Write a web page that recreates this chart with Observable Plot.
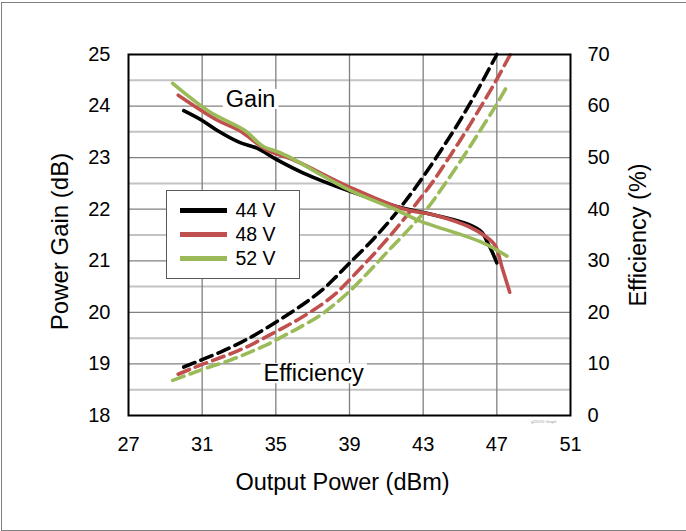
<!DOCTYPE html>
<html>
<head>
<meta charset="utf-8">
<script src="https://cdn.jsdelivr.net/npm/d3@7"></script>
<script src="https://cdn.jsdelivr.net/npm/@observablehq/plot@0.6"></script>
<style>
  html, body { margin: 0; padding: 0; background: #fff; }
  #wrap { position: relative; width: 686px; height: 531px; overflow: hidden; font-family: "Liberation Sans", Arial, sans-serif; }
  #border { position: absolute; left: 1px; top: 2px; width: 720px; height: 529px; border: 1.5px solid #7f7f7f; box-sizing: border-box; pointer-events: none; }
  #legend { position: absolute; left: 165.5px; top: 189.5px; width: 134px; height: 89px; border: 1px solid #595959; background: #fff; box-sizing: border-box; }
  .lrow { position: absolute; left: 13px; height: 24px; display: flex; align-items: center; font-size: 19.5px; color: #000; }
  .lsw { width: 47px; height: 5.5px; margin-right: 9px; }
</style>
</head>
<body>
<div id="wrap"><div id="border"></div></div>
<script>
// ---- Data ----
const series = ["44 V", "48 V", "52 V"];
const colors = ["#000000", "#c0504d", "#9bbb59"];

// Power gain (dB) vs output power (dBm)
const gain44x = [30.0, 31.0, 31.8, 33.0, 34.0, 35.0, 36.5, 39.0, 41.6, 43.7, 45.5, 46.2, 46.5, 46.75, 47.0];
const gain44y = [23.91, 23.72, 23.53, 23.30, 23.18, 22.97, 22.70, 22.35, 22.05, 21.88, 21.70, 21.55, 21.35, 21.17, 20.96];
const gain48x = [29.7, 31.8, 33.0, 34.5, 36.0, 39.0, 41.9, 43.7, 45.5, 46.4, 46.9, 47.3, 47.7];
const gain48y = [24.21, 23.73, 23.53, 23.15, 22.95, 22.43, 22.01, 21.88, 21.66, 21.47, 21.30, 20.85, 20.39];
const gain52x = [29.4, 31.4, 33.3, 34.3, 35.2, 35.9, 39.0, 41.6, 42.7, 46.1, 47.55];
const gain52y = [24.44, 23.89, 23.53, 23.22, 23.10, 22.98, 22.37, 21.98, 21.79, 21.37, 21.09];

// Efficiency (%) vs output power (dBm)
const eff44x = [30.0, 30.9, 32.0, 33.06, 33.8, 34.87, 35.96, 36.7, 37.6, 38.3, 39.04, 40.0, 41.0, 42.0, 43.0, 44.0, 45.0, 46.0, 47.0];
const eff44y = [9.4, 10.7, 12.3, 14.1, 15.5, 17.8, 20.3, 22.1, 24.6, 27.0, 29.7, 33.1, 37.0, 41.4, 46.3, 51.6, 57.2, 63.4, 70.0];
const eff48x = [29.7, 30.5, 31.6, 32.7, 33.6, 34.5, 35.4, 36.3, 37.4, 38.3, 39.0, 39.85, 40.5, 41.5, 42.5, 43.5, 44.4, 45.3, 46.15, 47.0, 47.73];
const eff48y = [8.0, 9.2, 10.7, 12.2, 13.6, 15.3, 17.0, 18.8, 21.3, 23.8, 26.3, 29.5, 32.0, 36.1, 40.5, 45.2, 50.0, 55.0, 60.0, 65.2, 70.0];
const eff52x = [29.4, 30.3, 31.4, 32.5, 33.6, 34.5, 35.4, 36.3, 37.4, 38.1, 39.04, 39.76, 40.5, 41.2, 41.9, 42.5, 43.3, 44.2, 45.15, 46.05, 46.93, 47.55];
const eff52y = [6.8, 8.0, 9.4, 10.7, 12.3, 13.7, 15.4, 17.1, 19.4, 21.3, 24.2, 26.8, 29.6, 32.3, 34.9, 37.2, 40.5, 45.0, 50.0, 55.0, 60.0, 63.8];

// Axes / ticks
const xTicks = [27, 31, 35, 39, 43, 47, 51];
const xGrid = [31, 35, 39, 43, 47];
const gainTicks = [18, 19, 20, 21, 22, 23, 24, 25];
const effTicks = [0, 10, 20, 30, 40, 50, 60, 70];
const gainHalf = [18.5, 19.5, 20.5, 21.5, 22.5, 23.5, 24.5];
const gainInner = [19, 20, 21, 22, 23, 24];

// Annotations (data coordinates)
const annLabels = ["Gain", "Efficiency"];
const annX = [33.63, 37.05];
const annY = [24.13, 18.81];

// ---- Build tables ----
const effToGain = e => 18 + e / 10; // right axis 0..70 % maps onto left 18..25 dB
const gainRows = [];
[[gain44x, gain44y], [gain48x, gain48y], [gain52x, gain52y]].forEach(([xs, ys], i) =>
  xs.forEach((x, j) => gainRows.push({series: series[i], x, y: ys[j]})));
const effRows = [];
[[eff44x, eff44y], [eff48x, eff48y], [eff52x, eff52y]].forEach(([xs, ys], i) =>
  xs.forEach((x, j) => effRows.push({series: series[i], x, y: effToGain(ys[j])})));
const annRows = annLabels.map((t, i) => ({t, x: annX[i], y: annY[i]}));

const chart = Plot.plot({
  width: 686,
  height: 531,
  marginLeft: 128,
  marginRight: 116,
  marginTop: 54,
  marginBottom: 116,
  style: {fontFamily: "'Liberation Sans', Arial, sans-serif", color: "#000", background: "transparent", overflow: "visible"},
  x: {domain: [27, 51]},
  y: {domain: [18, 25]},
  color: {domain: series, range: colors},
  marks: [
    Plot.ruleY(gainHalf, {stroke: "#c3c3c3", strokeWidth: 2}),
    Plot.ruleY(gainInner, {stroke: "#808080", strokeWidth: 1.3}),
    Plot.ruleX(xGrid, {stroke: "#808080", strokeWidth: 1.3}),
    Plot.axisX({ticks: xTicks, tickFormat: d => String(d), tickSize: 0, tickPadding: 21, fontSize: 20, label: null}),
    Plot.axisY({ticks: gainTicks, tickFormat: d => String(d), tickSize: 0, tickPadding: 18, fontSize: 20, label: null}),
    Plot.axisY({anchor: "right", ticks: effTicks.map(effToGain), tickFormat: d => String(Math.round((d - 18) * 10)), tickSize: 0, tickPadding: 17, fontSize: 20, label: null}),
    Plot.text(["Power Gain (dB)"], {text: d => d, frameAnchor: "left", textAnchor: "middle", dx: -68, dy: 6.5, rotate: -90, fontSize: 24}),
    Plot.text(["Efficiency (%)"], {text: d => d, frameAnchor: "right", textAnchor: "middle", dx: 68, dy: 0, rotate: -90, fontSize: 23.5}),
    Plot.text(["Output Power (dBm)"], {text: d => d, frameAnchor: "bottom", textAnchor: "middle", dx: -7, dy: 74, fontSize: 23.5}),
    Plot.text(["g22070 Graph"], {text: d => d, frameAnchor: "bottom-right", dx: -14, dy: 7, fontSize: 4, fill: "#999"}),
    Plot.text(annRows, {x: "x", y: "y", text: "t", fontSize: 23.5, fill: "#000", className: "annot"}),
    Plot.line(effRows, {x: "x", y: "y", z: "series", stroke: "series", strokeWidth: 3.6, strokeDasharray: "12,6.5", curve: "catmull-rom"}),
    Plot.line(gainRows, {x: "x", y: "y", z: "series", stroke: "series", strokeWidth: 3.6, curve: "catmull-rom"}),
    Plot.frame({stroke: "#000", strokeWidth: 2})
  ]
});

const wrap = document.getElementById("wrap");
wrap.insertBefore(chart, wrap.firstChild);

// white boxes behind the in-plot annotations
const annG = chart.querySelector("g.annot") || chart.querySelector(".annot");
if (annG) {
  annG.querySelectorAll("text").forEach(t => {
    const b = t.getBBox();
    const r = document.createElementNS("http://www.w3.org/2000/svg", "rect");
    r.setAttribute("x", b.x - 3);
    r.setAttribute("y", b.y + 3);
    r.setAttribute("width", b.width + 6);
    r.setAttribute("height", b.height - 6);
    r.setAttribute("fill", "#fff");
    const tr = t.getAttribute("transform");
    if (tr) r.setAttribute("transform", tr);
    annG.insertBefore(r, t);
  });
}

// legend
const legend = document.createElement("div");
legend.id = "legend";
series.forEach((s, i) => {
  const row = document.createElement("div");
  row.className = "lrow";
  row.style.top = (8 + i * 24) + "px";
  const sw = document.createElement("div");
  sw.className = "lsw";
  sw.style.background = colors[i];
  const lab = document.createElement("span");
  lab.textContent = s;
  row.appendChild(sw);
  row.appendChild(lab);
  legend.appendChild(row);
});
wrap.appendChild(legend);
</script>
</body>
</html>
